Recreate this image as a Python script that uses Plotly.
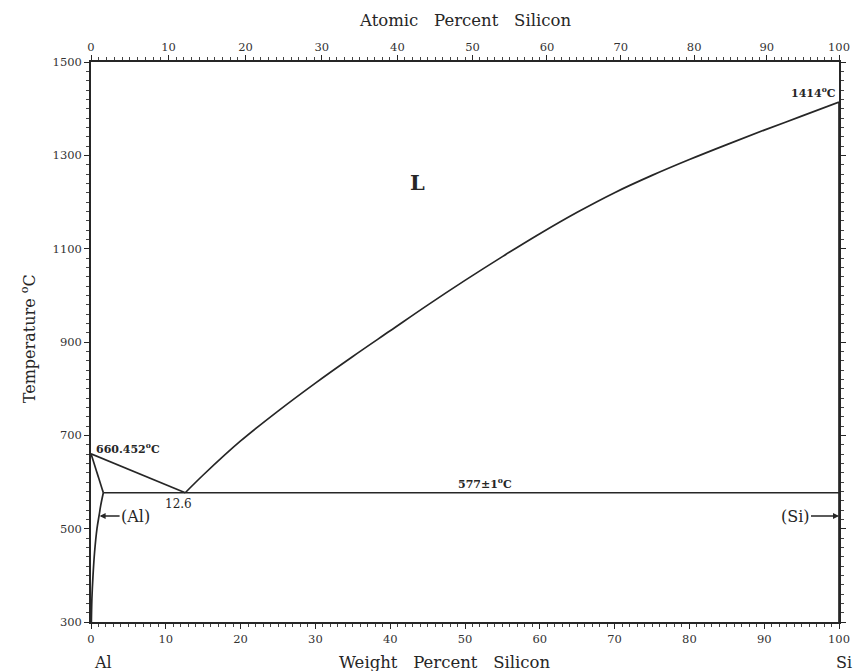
import plotly.graph_objects as go

# ---- data ----
liq_si_wt = [12.6, 15, 20, 25, 30, 35, 40, 45, 50, 55, 60, 65, 70, 75, 80, 85, 90, 95, 100]
liq_si_T = [577, 615, 688, 752, 812, 869, 924, 979, 1032, 1083, 1132, 1178, 1220, 1257, 1291, 1323, 1354, 1384, 1414]

liq_al_wt = [0, 12.6]
liq_al_T = [660.452, 577]

solidus_wt = [0, 1.65]
solidus_T = [660.452, 577]

solvus_wt = [1.65, 1.3, 1.1, 0.8, 0.48, 0.27, 0.12, 0.05]
solvus_T = [577, 550, 530, 500, 450, 400, 350, 300]

eutectic_wt = [1.65, 12.6, 100]
eutectic_T = [577, 577, 577]

si_side_wt = [100, 100]
si_side_T = [300, 1414]

atomic_ticks = [0, 10, 20, 30, 40, 50, 60, 70, 80, 90, 100]
atomic_minor = list(range(0, 101, 1))
weight_ticks = [0, 10, 20, 30, 40, 50, 60, 70, 80, 90, 100]
temp_ticks = [300, 500, 700, 900, 1100, 1300, 1500]
M_AL, M_SI = 26.9815, 28.0855


def at_to_wt(a):
    return 100 * a * M_SI / (a * M_SI + (100 - a) * M_AL)


INK = "#262626"
LINE = dict(color=INK, width=1.7)
FONT = "DejaVu Serif"

fig = go.Figure()
for xs, ys, shape in [(liq_si_wt, liq_si_T, "spline"), (liq_al_wt, liq_al_T, "linear"),
                      (solidus_wt, solidus_T, "linear"), (solvus_wt, solvus_T, "spline"),
                      (eutectic_wt, eutectic_T, "linear"), (si_side_wt, si_side_T, "linear")]:
    fig.add_trace(go.Scatter(x=xs, y=ys, mode="lines", line=dict(LINE, shape=shape),
                             showlegend=False, hoverinfo="skip"))

# invisible trace to activate top axis
fig.add_trace(go.Scatter(x=[0, 100], y=[300, 300], xaxis="x2", mode="lines",
                         line=dict(width=0), showlegend=False, hoverinfo="skip"))


def f(size):
    return dict(size=size, family=FONT, color=INK)


ann = [
    dict(x=43.7, y=1241, text="<b>L</b>", font=f(21), showarrow=False),
    dict(x=99.8, y=1434, text="<b>1414<sup>o</sup>C</b>", xanchor="right", font=f(11), showarrow=False),
    dict(x=0.4, y=672, text="<b>660.452<sup>o</sup>C</b>", xanchor="left", font=f(11), showarrow=False),
    dict(x=11.7, y=552, text="12.6", font=f(12), showarrow=False),
    dict(x=52.7, y=596, text="<b>577±1<sup>o</sup>C</b>", font=f(11), showarrow=False),
    dict(x=1.15, y=527, ax=36, ay=0, text="(Al)", font=f(16), showarrow=True,
         arrowhead=2, arrowsize=0.8, arrowwidth=1.5, arrowcolor=INK),
    dict(x=100, y=527, ax=-44, ay=0, text="(Si)", font=f(16), showarrow=True,
         arrowhead=2, arrowsize=0.8, arrowwidth=1.5, arrowcolor=INK),
    # axis titles and element labels
    dict(x=0.1, y=0, xref="x", yref="paper", xanchor="left", yanchor="middle", yshift=-40,
         text="Al", font=f(16), showarrow=False),
    dict(x=1, y=0, xref="paper", yref="paper", xanchor="right", yanchor="middle", xshift=15, yshift=-40,
         text="Si", font=f(16), showarrow=False),
    dict(x=47.3, y=0, xref="x", yref="paper", xanchor="center", yanchor="middle", yshift=-40,
         text="Weight   Percent   Silicon", font=f(16.5), showarrow=False),
    dict(x=50, y=1, xref="x", yref="paper", xanchor="center", yanchor="middle", yshift=42,
         text="Atomic   Percent   Silicon", font=f(16.5), showarrow=False),
    dict(x=0, y=0.505, xref="paper", yref="paper", xanchor="center", yanchor="middle", xshift=-63,
         textangle=-90, text="Temperature <sup>o</sup>C", font=f(16), showarrow=False),
]

axis_common = dict(showgrid=False, zeroline=False, showline=True, linecolor=INK, linewidth=1.6,
                   tickcolor=INK, tickfont=dict(size=11.5, family=FONT, color="#333"), automargin=False)

# the page body adds an 8px offset, so the figure is sized to fit inside the window
fig.update_layout(
    width=854, height=663,
    margin=dict(l=83, r=23, t=54, b=49),
    paper_bgcolor="white", plot_bgcolor="white",
    font=dict(family=FONT, color=INK),
    annotations=ann,
    xaxis=dict(axis_common, range=[0, 100], tickvals=weight_ticks,
               ticks="outside", ticklen=5,
               minor=dict(dtick=1, ticklen=3, tickcolor="#444", ticks="outside")),
    xaxis2=dict(axis_common, range=[0, 100], overlaying="x", side="top",
                tickvals=[at_to_wt(a) for a in atomic_ticks], ticktext=[str(a) for a in atomic_ticks],
                ticks="outside", ticklen=5,
                minor=dict(tickvals=[at_to_wt(a) for a in atomic_minor], ticklen=3,
                           tickcolor="#444", ticks="outside")),
    yaxis=dict(axis_common, range=[300, 1500], tickvals=temp_ticks, mirror="ticks",
               ticks="outside", ticklen=5,
               minor=dict(dtick=20, ticklen=3, tickcolor="#444", ticks="outside")),
)

fig.write_html("out.html")
